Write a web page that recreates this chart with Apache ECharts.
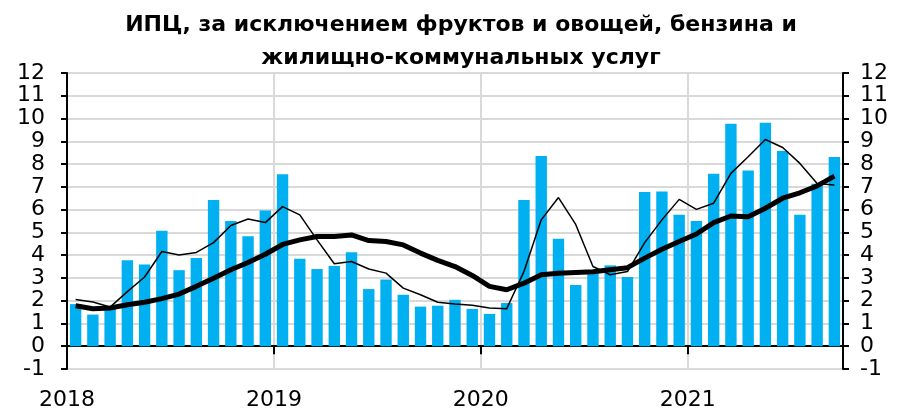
<!DOCTYPE html>
<html>
<head>
<meta charset="utf-8">
<script src="https://cdn.jsdelivr.net/npm/echarts@6/dist/echarts.min.js"></script>
<style>
html,body{margin:0;padding:0;background:#fff;}
#chart{width:899px;height:412px;}
</style>
</head>
<body>
<div id="chart"></div>
<script>
const titleText = 'ИПЦ, за исключением фруктов и овощей, бензина и\nжилищно-коммунальных услуг';
const years = ['2018', '2019', '2020', '2021'];
const months = (function(){
  const m = [];
  for (const y of years) {
    for (let i = 1; i <= 12; i++) m.push(y + '-' + String(i).padStart(2, '0'));
  }
  return m.slice(0, 45);
})();

// monthly bars
const barValues = [
  1.85, 1.39, 1.70, 3.78, 3.59, 5.07, 3.34, 3.87, 6.42, 5.50, 4.83, 5.96,
  7.55, 3.84, 3.39, 3.53, 4.13, 2.51, 2.93, 2.26, 1.74, 1.78, 2.04, 1.64,
  1.42, 1.90, 6.42, 8.36, 4.72, 2.69, 3.20, 3.55, 3.04, 6.77, 6.80, 5.77,
  5.50, 7.58, 9.77, 7.72, 9.81, 8.57, 5.77, 7.14, 8.31
];
// thin line
const thinValues = [
  2.05, 1.94, 1.72, 2.40, 3.04, 4.16, 4.01, 4.12, 4.55, 5.30, 5.59, 5.43,
  6.13, 5.77, 4.67, 3.62, 3.72, 3.39, 3.21, 2.55, 2.26, 1.93, 1.85, 1.80,
  1.68, 1.65, 3.28, 5.55, 6.53, 5.35, 3.50, 3.14, 3.28, 4.55, 5.55, 6.45,
  6.01, 6.28, 7.59, 8.32, 9.08, 8.73, 8.03, 7.15, 7.08
];
// thick line
const thickValues = [
  1.78, 1.65, 1.68, 1.82, 1.93, 2.09, 2.29, 2.63, 2.99, 3.36, 3.68, 4.04,
  4.47, 4.67, 4.82, 4.82, 4.89, 4.64, 4.60, 4.45, 4.09, 3.77, 3.50, 3.11,
  2.63, 2.48, 2.77, 3.14, 3.21, 3.24, 3.27, 3.36, 3.45, 3.87, 4.26, 4.60,
  4.93, 5.43, 5.72, 5.69, 6.06, 6.50, 6.74, 7.04, 7.47
];
const yTicks = [-1,0,1,2,3,4,5,6,7,8,9,10,11,12];

const FONT = '"DejaVu Sans", "Liberation Sans", Arial, sans-serif';
const chart = echarts.init(document.getElementById('chart'), null, {renderer: 'canvas'});

const yAxisCommon = {
  type: 'value', min: yTicks[0], max: yTicks[yTicks.length-1], interval: 1,
  axisLine: {show: true, onZero: false, lineStyle: {color: '#000', width: 2}},
  axisTick: {show: true, inside: false, length: 6, lineStyle: {color: '#000', width: 2}},
  axisLabel: {color: '#000', fontSize: 22, fontFamily: FONT}
};

chart.setOption({
  animation: false,
  title: {
    text: titleText, left: 456, top: 4, textAlign: 'center',
    textStyle: {fontFamily: FONT, fontWeight: 'bold', fontSize: 22, color: '#000', lineHeight: 33}
  },
  grid: {left: 67, right: 56, top: 73, bottom: 43, containLabel: false},
  xAxis: [
    {
      type: 'category', data: months, boundaryGap: true,
      axisLine: {show: true, onZero: true, lineStyle: {color: '#000', width: 2}},
      axisTick: {show: true, interval: 11, length: 8, lineStyle: {color: '#000', width: 2}},
      axisLabel: {show: false},
      splitLine: {show: false}
    },
    {
      type: 'value', min: 0, max: months.length, interval: 12, position: 'bottom',
      axisLine: {show: false, onZero: false},
      axisTick: {show: false},
      axisLabel: {show: true, showMaxLabel: false, color: '#000', fontSize: 22, fontFamily: FONT, margin: 20,
        formatter: function(v){ return years[Math.round(v/12)] || ''; }},
      splitLine: {show: true, lineStyle: {color: '#d9d9d9', width: 2}}
    }
  ],
  yAxis: [
    Object.assign({}, yAxisCommon, {position: 'left',
      axisLabel: Object.assign({}, yAxisCommon.axisLabel, {margin: 22}),
      splitLine: {show: true, lineStyle: {color: '#d9d9d9', width: 2}}}),
    Object.assign({}, yAxisCommon, {position: 'right',
      axisLabel: Object.assign({}, yAxisCommon.axisLabel, {margin: 17}),
      splitLine: {show: false}})
  ],
  series: [
    {
      type: 'bar', xAxisIndex: 0, yAxisIndex: 0, data: barValues,
      barWidth: '66%', itemStyle: {color: '#00B0F0'}, z: 2
    },
    {
      type: 'line', xAxisIndex: 0, yAxisIndex: 0, data: thinValues,
      showSymbol: false, symbol: 'none', lineStyle: {color: '#000', width: 1.5}, z: 3
    },
    {
      type: 'line', xAxisIndex: 0, yAxisIndex: 0, data: thickValues,
      showSymbol: false, symbol: 'none', lineStyle: {color: '#000', width: 5}, z: 4
    }
  ]
});
</script>
</body>
</html>
